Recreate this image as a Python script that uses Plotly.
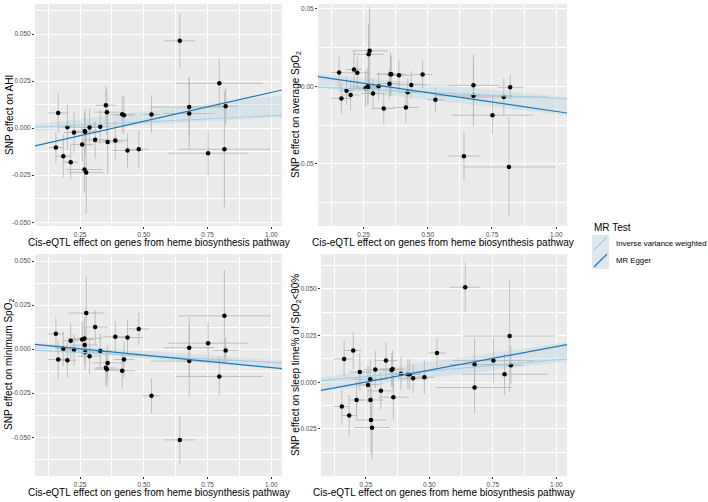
import plotly.graph_objects as go

W, H = 708, 502

# ---------------- data ----------------
exposure_beta = [0.155, 0.164, 0.184, 0.200, 0.213, 0.226, 0.258, 0.267, 0.268, 0.270,
                 0.274, 0.287, 0.309, 0.329, 0.351, 0.355, 0.358, 0.388, 0.415, 0.422,
                 0.436, 0.480, 0.530, 0.641, 0.678, 0.678, 0.752, 0.796, 0.816, 0.821]
exposure_se = [0.030, 0.040, 0.030, 0.035, 0.030, 0.040, 0.045, 0.070, 0.050, 0.060,
               0.070, 0.045, 0.050, 0.045, 0.040, 0.050, 0.060, 0.050, 0.050, 0.040,
               0.060, 0.040, 0.035, 0.060, 0.150, 0.100, 0.160, 0.170, 0.180, 0.050]

ahi_beta = [-0.0103, 0.0081, -0.0149, 0.0005, -0.0181, -0.0023, -0.0087, -0.0220, -0.0015, -0.0020,
            -0.0236, 0.0004, -0.0062, 0.0007, 0.0122, 0.0085, -0.0074, -0.0065, 0.0074, 0.0069,
            -0.0119, -0.0112, 0.0073, 0.0464, 0.0112, 0.0078, -0.0133, 0.0239, -0.0112, 0.0117]
ahi_se = [0.008, 0.0105, 0.0115, 0.012, 0.009, 0.011, 0.009, 0.012, 0.010, 0.012,
          0.022, 0.010, 0.010, 0.009, 0.010, 0.012, 0.017, 0.010, 0.010, 0.010,
          0.009, 0.010, 0.010, 0.0145, 0.016, 0.019, 0.012, 0.013, 0.031, 0.010]

avg_spo2_beta = [0.0089, -0.0078, -0.0028, -0.0056, 0.0108, 0.0087, -0.0013, 0.0000, -0.0010, 0.0206,
                 0.0229, -0.0047, 0.0000, -0.0143, 0.0017, 0.0078, 0.0078, 0.0071, -0.0136, -0.0039,
                 0.0009, 0.0076, -0.0087, -0.0450, -0.0061, 0.0006, -0.0186, -0.0069, -0.0520, -0.0006]
avg_spo2_se = [0.010, 0.010, 0.009, 0.010, 0.012, 0.010, 0.012, 0.012, 0.010, 0.020,
               0.028, 0.010, 0.009, 0.010, 0.010, 0.014, 0.012, 0.010, 0.010, 0.009,
               0.009, 0.009, 0.008, 0.016, 0.020, 0.020, 0.012, 0.012, 0.032, 0.008]

min_spo2_beta = [0.0087, -0.0059, 0.0002, -0.0063, 0.0047, -0.0004, 0.0055, 0.0061, 0.0023, -0.0017,
                 0.0205, -0.0040, 0.0125, -0.0011, -0.0106, -0.0114, -0.0078, 0.0070, -0.0123, -0.0059,
                 0.0066, 0.0115, -0.0265, -0.0515, -0.0068, 0.0008, 0.0034, -0.0155, 0.0189, -0.0007]
min_spo2_se = [0.009, 0.011, 0.010, 0.010, 0.010, 0.009, 0.010, 0.012, 0.010, 0.010,
               0.021, 0.010, 0.010, 0.010, 0.010, 0.010, 0.010, 0.009, 0.010, 0.010,
               0.010, 0.009, 0.010, 0.0135, 0.020, 0.017, 0.012, 0.011, 0.026, 0.007]

t90_beta = [-0.0130, 0.0125, -0.0178, 0.0170, -0.0095, 0.0055, -0.0014, 0.0016, -0.0095, -0.0202,
            -0.0243, 0.0068, -0.0046, 0.0116, 0.0066, 0.0071, -0.0080, 0.0046, 0.0043, 0.0043,
            0.0021, 0.0027, 0.0157, 0.0509, -0.0028, 0.0095, 0.0116, 0.0043, 0.0248, 0.0091]
t90_se = [0.009, 0.010, 0.011, 0.010, 0.010, 0.010, 0.010, 0.011, 0.010, 0.018,
          0.017, 0.010, 0.010, 0.010, 0.009, 0.010, 0.012, 0.009, 0.008, 0.008,
          0.008, 0.009, 0.008, 0.013, 0.014, 0.014, 0.012, 0.011, 0.030, 0.010]

# MR estimates per panel (AHI, average SpO2, minimum SpO2, T90)
ivw_slope = [0.0066, -0.0077, -0.0075, 0.0120]
egger_intercept = [-0.0117, 0.0080, 0.0037, -0.0062]
egger_slope = [0.0307, -0.0242, -0.0142, 0.0253]
band_lo_intercept = [-0.0020, 0.0005, 0.00067, -0.0060]
band_lo_slope = [0.00746, -0.0185, -0.0117, 0.01648]
band_hi_intercept = [0.0009, 0.0093, 0.0044, 0.0013]
band_hi_slope = [0.0160, -0.0155, -0.01047, 0.01926]

x_ticks = [0.25, 0.50, 0.75, 1.00]
x_ticklabels = ["0.25", "0.50", "0.75", "1.00"]
y_ticks = [
    [-0.050, -0.025, 0.000, 0.025, 0.050],
    [-0.05, 0.00, 0.05],
    [-0.050, -0.025, 0.000, 0.025, 0.050],
    [-0.025, 0.000, 0.025, 0.050],
]
y_ticklabels = [
    ["-0.050", "-0.025", "0.000", "0.025", "0.050"],
    ["-0.05", "0.00", "0.05"],
    ["-0.050", "-0.025", "0.000", "0.025", "0.050"],
    ["-0.025", "0.000", "0.025", "0.050"],
]
y_titles = [
    "SNP effect on AHI",
    "SNP effect on average SpO<sub>2</sub>",
    "SNP effect on minimum SpO<sub>2</sub>",
    "SNP effect on sleep time% of SpO<sub>2</sub>&lt;90%",
]
x_title = "Cis-eQTL effect on genes from heme biosynthesis pathway"
methods = ["Inverse variance weighted", "MR Egger"]
method_colors = ["#a6cee3", "#1f78b4"]

outcomes = [(ahi_beta, ahi_se), (avg_spo2_beta, avg_spo2_se),
            (min_spo2_beta, min_spo2_se), (t90_beta, t90_se)]

# ---------------- layout geometry (pixels) ----------------
x_range = [0.073, 1.042]
y_ranges = [[-0.052, 0.066], [-0.090, 0.053], [-0.072, 0.054], [-0.0502, 0.0687]]
panel_px = [  # left, right, top, bottom
    (35, 282, 4, 226),
    (318, 567, 4, 226),
    (35, 282, 254, 476),
    (321, 567, 254, 476),
]

FONT = "Liberation Sans, Arial, sans-serif"
PANEL_BG = "#EBEBEB"
ERR_COLOR = "#B3B3B3"

fig = go.Figure()
layout = dict(
    width=W, height=H,
    margin=dict(l=0, r=0, t=0, b=0),
    paper_bgcolor="white",
    plot_bgcolor=PANEL_BG,
    showlegend=False,
    font=dict(family=FONT),
)
annotations = []
shapes = []


def mids(vals, lo, hi):
    step = vals[1] - vals[0]
    out = []
    v = vals[0] - step / 2
    while v <= hi:
        if v >= lo:
            out.append(round(v, 6))
        v += step
    return out


for i, ((yb, yse), (l, r, t, b)) in enumerate(zip(outcomes, panel_px)):
    xa = "x" if i == 0 else f"x{i+1}"
    ya = "y" if i == 0 else f"y{i+1}"
    xkey = "xaxis" if i == 0 else f"xaxis{i+1}"
    ykey = "yaxis" if i == 0 else f"yaxis{i+1}"

    # confidence band
    bx = [x_range[0], x_range[1], x_range[1], x_range[0]]
    by = [band_lo_intercept[i] + band_lo_slope[i] * x_range[0],
          band_lo_intercept[i] + band_lo_slope[i] * x_range[1],
          band_hi_intercept[i] + band_hi_slope[i] * x_range[1],
          band_hi_intercept[i] + band_hi_slope[i] * x_range[0]]
    fig.add_trace(go.Scatter(x=bx, y=by, fill="toself", mode="none",
                             fillcolor="rgba(166,206,227,0.28)",
                             xaxis=xa, yaxis=ya, hoverinfo="skip"))

    # points with error bars
    fig.add_trace(go.Scatter(
        x=exposure_beta, y=yb, mode="markers",
        marker=dict(color="black", size=4.5),
        error_x=dict(type="data", array=exposure_se, color=ERR_COLOR, thickness=0.8, width=0),
        error_y=dict(type="data", array=yse, color=ERR_COLOR, thickness=0.8, width=0),
        xaxis=xa, yaxis=ya))

    # MR lines
    lines = [(0.0, ivw_slope[i]), (egger_intercept[i], egger_slope[i])]
    for (a, s), col in zip(lines, method_colors):
        fig.add_trace(go.Scatter(
            x=x_range, y=[a + s * x_range[0], a + s * x_range[1]],
            mode="lines", line=dict(color=col, width=1.2),
            xaxis=xa, yaxis=ya, hoverinfo="skip"))

    dom_x = [l / W, r / W]
    dom_y = [1 - b / H, 1 - t / H]
    yr = y_ranges[i]
    layout[xkey] = dict(
        domain=dom_x, range=x_range, anchor=ya,
        tickmode="array", tickvals=x_ticks, ticktext=x_ticklabels,
        showgrid=True, gridcolor="white", gridwidth=1,
        minor=dict(tickmode="array", tickvals=mids(x_ticks, x_range[0], x_range[1]),
                   showgrid=True, gridcolor="white", gridwidth=0.5, ticks=""),
        ticks="outside", ticklen=2, tickwidth=0.6, tickcolor="#333333",
        tickfont=dict(size=6.5, color="#4D4D4D", family=FONT),
        zeroline=False, showline=False,
    )
    layout[ykey] = dict(
        domain=dom_y, range=yr, anchor=xa,
        tickmode="array", tickvals=y_ticks[i], ticktext=y_ticklabels[i],
        showgrid=True, gridcolor="white", gridwidth=1,
        minor=dict(tickmode="array", tickvals=mids(y_ticks[i], yr[0], yr[1]),
                   showgrid=True, gridcolor="white", gridwidth=0.5, ticks=""),
        ticks="outside", ticklen=2, tickwidth=0.6, tickcolor="#333333",
        tickfont=dict(size=6.5, color="#4D4D4D", family=FONT),
        zeroline=False, showline=False,
    )

    # axis titles
    annotations.append(dict(
        text=x_title, xref="paper", yref="paper",
        x=(l + r) / 2 / W, y=1 - (b + 16.5) / H, xanchor="center", yanchor="middle",
        showarrow=False, font=dict(size=10, color="black", family=FONT)))
    annotations.append(dict(
        text=y_titles[i], xref="paper", yref="paper",
        x=(9 if l < 100 else 296) / W, y=1 - (t + b) / 2 / H,
        xanchor="center", yanchor="middle", textangle=-90,
        showarrow=False, font=dict(size=10, color="black", family=FONT)))

# ---------------- legend (manual, ggplot style) ----------------
annotations.append(dict(text="MR Test", xref="paper", yref="paper",
                        x=592 / W, y=1 - 227 / H, xanchor="left", yanchor="middle",
                        showarrow=False, font=dict(size=10, color="black", family=FONT)))
key_tops = [235, 252]
for (kt, name, col) in zip(key_tops, methods, method_colors):
    shapes.append(dict(type="rect", xref="paper", yref="paper",
                       x0=592 / W, x1=609 / W, y0=1 - (kt + 17) / H, y1=1 - kt / H,
                       fillcolor="#DDE7ED", line=dict(width=0), layer="above"))
    shapes.append(dict(type="line", xref="paper", yref="paper",
                       x0=594 / W, x1=607 / W, y0=1 - (kt + 15) / H, y1=1 - (kt + 2) / H,
                       line=dict(color=col, width=1.2), layer="above"))
    annotations.append(dict(text=name, xref="paper", yref="paper",
                            x=614 / W, y=1 - (kt + 8.5) / H, xanchor="left", yanchor="middle",
                            showarrow=False, font=dict(size=7.8, color="black", family=FONT)))

layout["annotations"] = annotations
layout["shapes"] = shapes
fig.update_layout(**layout)
fig.write_html("out.html", config={"displayModeBar": False},
               post_script="document.body.style.margin='0px';document.body.style.overflow='hidden';")
